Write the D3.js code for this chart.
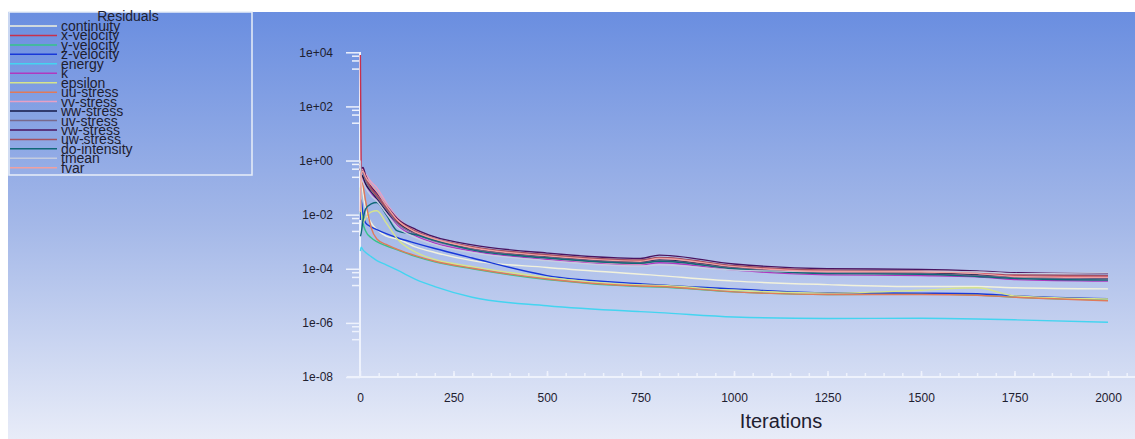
<!DOCTYPE html>
<html>
<head>
<meta charset="utf-8">
<script src="https://cdn.jsdelivr.net/npm/d3@7"></script>
<style>
  body { margin: 0; background: #fff; }
  svg text { font-family: "Liberation Sans", Arial, sans-serif; }
</style>
</head>
<body>
<div id="chart"></div>
<script>
var iterations = [1, 3, 8, 15, 30, 45, 70, 100, 150, 200, 300, 500, 750, 800, 1000, 1250, 1500, 1650, 1750, 2000];

var continuity  = [1, 0.32, 0.063, 0.016, 5.0e-3, 2.8e-3, 1.6e-3, 1.26e-3, 6.3e-4, 4.0e-4, 2.0e-4, 1.12e-4, 6.3e-5, 5.6e-5, 3.5e-5, 2.6e-5, 2.2e-5, 2.2e-5, 2.0e-5, 1.8e-5];
var xVelocity   = [8000, 0.56, 0.5, 0.25, 0.1, 0.05, 0.018, 5.6e-3, 2.2e-3, 1.26e-3, 6.3e-4, 3.2e-4, 2.0e-4, 2.5e-4, 1.26e-4, 8.3e-5, 7.9e-5, 7.1e-5, 5.6e-5, 5.0e-5];
var yVelocity   = [0.01, 0.02, 5.0e-3, 2.5e-3, 1.4e-3, 1.0e-3, 7.1e-4, 5.0e-4, 2.8e-4, 1.8e-4, 1.0e-4, 4.0e-5, 2.2e-5, 2.1e-5, 1.4e-5, 1.12e-5, 1.17e-5, 1.07e-5, 8.9e-6, 7.1e-6];
var zVelocity   = [6.3e-3, 0.035, 0.01, 5.0e-3, 3.5e-3, 2.8e-3, 2.0e-3, 1.4e-3, 8.7e-4, 5.6e-4, 2.5e-4, 5.6e-5, 2.8e-5, 2.5e-5, 1.8e-5, 1.3e-5, 1.26e-5, 1.2e-5, 1.0e-5, 7.9e-6];
var energy      = [4.5e-4, 6.3e-4, 5.0e-4, 4.0e-4, 2.8e-4, 2.0e-4, 1.4e-4, 8.9e-5, 4.0e-5, 2.2e-5, 8.9e-6, 4.3e-6, 2.6e-6, 2.4e-6, 1.66e-6, 1.45e-6, 1.48e-6, 1.4e-6, 1.3e-6, 1.05e-6];
var k           = [0.5, 0.32, 0.2, 0.126, 0.063, 0.035, 0.0126, 4.0e-3, 1.6e-3, 8.9e-4, 4.5e-4, 2.2e-4, 1.4e-4, 1.66e-4, 8.9e-5, 6.0e-5, 5.6e-5, 5.0e-5, 4.0e-5, 3.5e-5];
var epsilon     = [0.1, 0.016, 5.0e-3, 7.9e-3, 0.0126, 0.014, 5.0e-3, 1.26e-3, 4.0e-4, 2.2e-4, 1.2e-4, 4.8e-5, 2.5e-5, 2.4e-5, 1.6e-5, 1.26e-5, 1.6e-5, 2.0e-5, 1.0e-5, 7.6e-6];
var uuStress    = [0.5, 0.32, 0.126, 0.032, 3.2e-3, 1.26e-3, 7.9e-4, 5.2e-4, 3.0e-4, 1.9e-4, 1.05e-4, 4.2e-5, 2.3e-5, 2.2e-5, 1.4e-5, 1.12e-5, 1.12e-5, 1.05e-5, 8.9e-6, 6.6e-6];
var vvStress    = [0.4, 0.5, 0.45, 0.32, 0.16, 0.1, 0.028, 7.9e-3, 2.5e-3, 1.26e-3, 5.6e-4, 2.5e-4, 1.5e-4, 1.9e-4, 1.0e-4, 6.6e-5, 6.3e-5, 5.5e-5, 4.5e-5, 4.0e-5];
var wwStress    = [0.5, 0.32, 0.25, 0.14, 0.071, 0.04, 0.014, 5.0e-3, 2.0e-3, 1.12e-3, 5.6e-4, 2.8e-4, 1.8e-4, 2.1e-4, 1.12e-4, 7.6e-5, 7.1e-5, 6.0e-5, 5.0e-5, 4.5e-5];
var uvStress    = [0.56, 0.4, 0.35, 0.18, 0.079, 0.045, 0.016, 4.8e-3, 1.9e-3, 1.05e-3, 5.2e-4, 2.6e-4, 1.66e-4, 2.0e-4, 1.05e-4, 7.1e-5, 6.6e-5, 5.6e-5, 4.8e-5, 4.2e-5];
var vwStress    = [0.79, 0.5, 0.56, 0.28, 0.11, 0.063, 0.022, 7.1e-3, 2.8e-3, 1.5e-3, 7.6e-4, 3.8e-4, 2.4e-4, 3.2e-4, 1.5e-4, 1.0e-4, 9.5e-5, 8.3e-5, 7.1e-5, 6.6e-5];
var uwStress    = [0.63, 0.45, 0.4, 0.22, 0.089, 0.05, 0.018, 6.3e-3, 2.4e-3, 1.3e-3, 6.6e-4, 3.3e-4, 2.1e-4, 2.6e-4, 1.3e-4, 8.9e-5, 8.3e-5, 7.6e-5, 6.0e-5, 5.6e-5];
var doIntensity = [1.6e-3, 2.0e-3, 6.3e-3, 0.016, 0.025, 0.028, 0.01, 2.5e-3, 1.8e-3, 1.12e-3, 5.0e-4, 2.5e-4, 1.6e-4, 1.9e-4, 1.0e-4, 6.6e-5, 6.3e-5, 5.2e-5, 4.4e-5, 3.8e-5];
var tmean       = [1, 0.25, 0.16, 0.1, 0.05, 0.032, 0.0112, 3.5e-3, 1.4e-3, 7.9e-4, 4.0e-4, 2.0e-4, 1.26e-4, 1.4e-4, 8.9e-5, 7.9e-5, 7.9e-5, 7.6e-5, 6.6e-5, 7.1e-5];
var fvar        = [0.0126, 0.32, 0.4, 0.25, 0.126, 0.071, 0.022, 6.3e-3, 2.2e-3, 1.26e-3, 6.0e-4, 3.0e-4, 1.9e-4, 2.4e-4, 1.2e-4, 7.9e-5, 7.6e-5, 6.6e-5, 5.2e-5, 4.8e-5];

var seriesNames = ["continuity", "x-velocity", "y-velocity", "z-velocity", "energy", "k", "epsilon", "uu-stress",
                   "vv-stress", "ww-stress", "uv-stress", "vw-stress", "uw-stress", "do-intensity", "tmean", "fvar"];
var seriesValues = [continuity, xVelocity, yVelocity, zVelocity, energy, k, epsilon, uuStress,
                    vvStress, wwStress, uvStress, vwStress, uwStress, doIntensity, tmean, fvar];

var yTicks = [1e-8, 1e-6, 1e-4, 1e-2, 1, 1e2, 1e4];
var xTicks = [0, 250, 500, 750, 1000, 1250, 1500, 1750, 2000];

var colors = ["#f2f2dc", "#c8304c", "#34c48a", "#1838d8", "#44d4f0", "#b038c0", "#d6e48c", "#e07a5a",
              "#e8a0c4", "#141848", "#786a8c", "#4a1460", "#a45060", "#106878", "#c4cce0", "#f0a0a0"];

var width = 1135, height = 439;

var svg = d3.select("#chart").append("svg").attr("width", width).attr("height", height);

// background gradient
var grad = svg.append("defs").append("linearGradient").attr("id", "bg").attr("x1", 0).attr("y1", 0).attr("x2", 0).attr("y2", 1);
grad.append("stop").attr("offset", "0%").attr("stop-color", "#6a8ee0");
grad.append("stop").attr("offset", "50%").attr("stop-color", "#a4b8e8");
grad.append("stop").attr("offset", "100%").attr("stop-color", "#e8ecf8");
svg.append("rect").attr("x", 8).attr("y", 12).attr("width", width - 8).attr("height", height - 12).attr("fill", "url(#bg)");

var x = d3.scaleLinear().domain([0, 2000]).range([360, 1108]);
var y = d3.scaleLog().domain([1e-8, 1e4]).range([377, 52.3]);

var tickColor = "#eef2fc";
var labelColor = "#1e2030";

// y axis
var minorY = [];
yTicks.slice(1).forEach(function(t) { minorY.push(t * 0.75, t * 0.5, t * 0.25); });

var yAxis = svg.append("g").attr("transform", "translate(360,0)")
  .call(d3.axisLeft(y).tickValues(yTicks).tickSize(14).tickPadding(13).tickFormat(function(v) {
    var e = Math.round(Math.log10(v));
    return "1e" + (e < 0 ? "-" : "+") + String(Math.abs(e)).padStart(2, "0");
  }));
yAxis.select(".domain").remove();
yAxis.selectAll("line").attr("stroke", tickColor).attr("stroke-width", 1.5);
yAxis.selectAll("text").attr("fill", labelColor).style("font-size", "12px");

var yMinor = svg.append("g").attr("transform", "translate(360,0)")
  .call(d3.axisLeft(y).tickValues(minorY).tickSize(8).tickFormat(""));
yMinor.select(".domain").remove();
yMinor.selectAll("line").attr("stroke", tickColor).attr("stroke-width", 1.5);

// x axis
var xAxis = svg.append("g").attr("transform", "translate(0,377)")
  .call(d3.axisBottom(x).tickValues(xTicks).tickSizeInner(-6).tickSizeOuter(0).tickPadding(16).tickFormat(d3.format("d")));
xAxis.select(".domain").remove();
xAxis.selectAll("line").attr("stroke", tickColor).attr("stroke-width", 1.5);
xAxis.selectAll("text").attr("fill", labelColor).style("font-size", "12px");

var xMinor = svg.append("g").attr("transform", "translate(0,377)")
  .call(d3.axisBottom(x).tickValues(d3.range(50, 2101, 50)).tickSizeInner(-4).tickSizeOuter(0).tickFormat(""));
xMinor.select(".domain").remove();
xMinor.selectAll("line").attr("stroke", tickColor).attr("stroke-width", 1.5);

svg.append("line").attr("x1", 347).attr("x2", width).attr("y1", 377).attr("y2", 377).attr("stroke", tickColor).attr("stroke-width", 2);
svg.append("line").attr("x1", 360).attr("x2", 360).attr("y1", 52).attr("y2", 377).attr("stroke", tickColor).attr("stroke-width", 2);

svg.append("text").attr("x", 781).attr("y", 428).attr("text-anchor", "middle")
  .attr("fill", labelColor).style("font-size", "20px").text("Iterations");

// residual curves
var line = d3.line().curve(d3.curveMonotoneX).x(function(d) { return x(d[0]); }).y(function(d) { return y(d[1]); });
seriesValues.forEach(function(vals, i) {
  svg.append("path")
    .datum(iterations.map(function(it, j) { return [it, vals[j]]; }))
    .attr("d", line)
    .attr("fill", "none")
    .attr("stroke", colors[i])
    .attr("stroke-width", 1.4);
});

// legend
var legend = svg.append("g");
legend.append("rect").attr("x", 9).attr("y", 12).attr("width", 243).attr("height", 163)
  .attr("fill", "none").attr("stroke", "#e8eef8").attr("stroke-width", 1.5);
legend.append("text").attr("x", 128).attr("y", 21).attr("text-anchor", "middle")
  .attr("fill", labelColor).style("font-size", "14px").text("Residuals");
seriesNames.forEach(function(name, i) {
  var ly = 26 + i * 9.45;
  legend.append("line").attr("x1", 10).attr("x2", 57).attr("y1", ly).attr("y2", ly)
    .attr("stroke", colors[i]).attr("stroke-width", 1.5);
  legend.append("text").attr("x", 61).attr("y", ly + 5).attr("fill", labelColor)
    .style("font-size", "14px").text(name);
});
</script>
</body>
</html>
